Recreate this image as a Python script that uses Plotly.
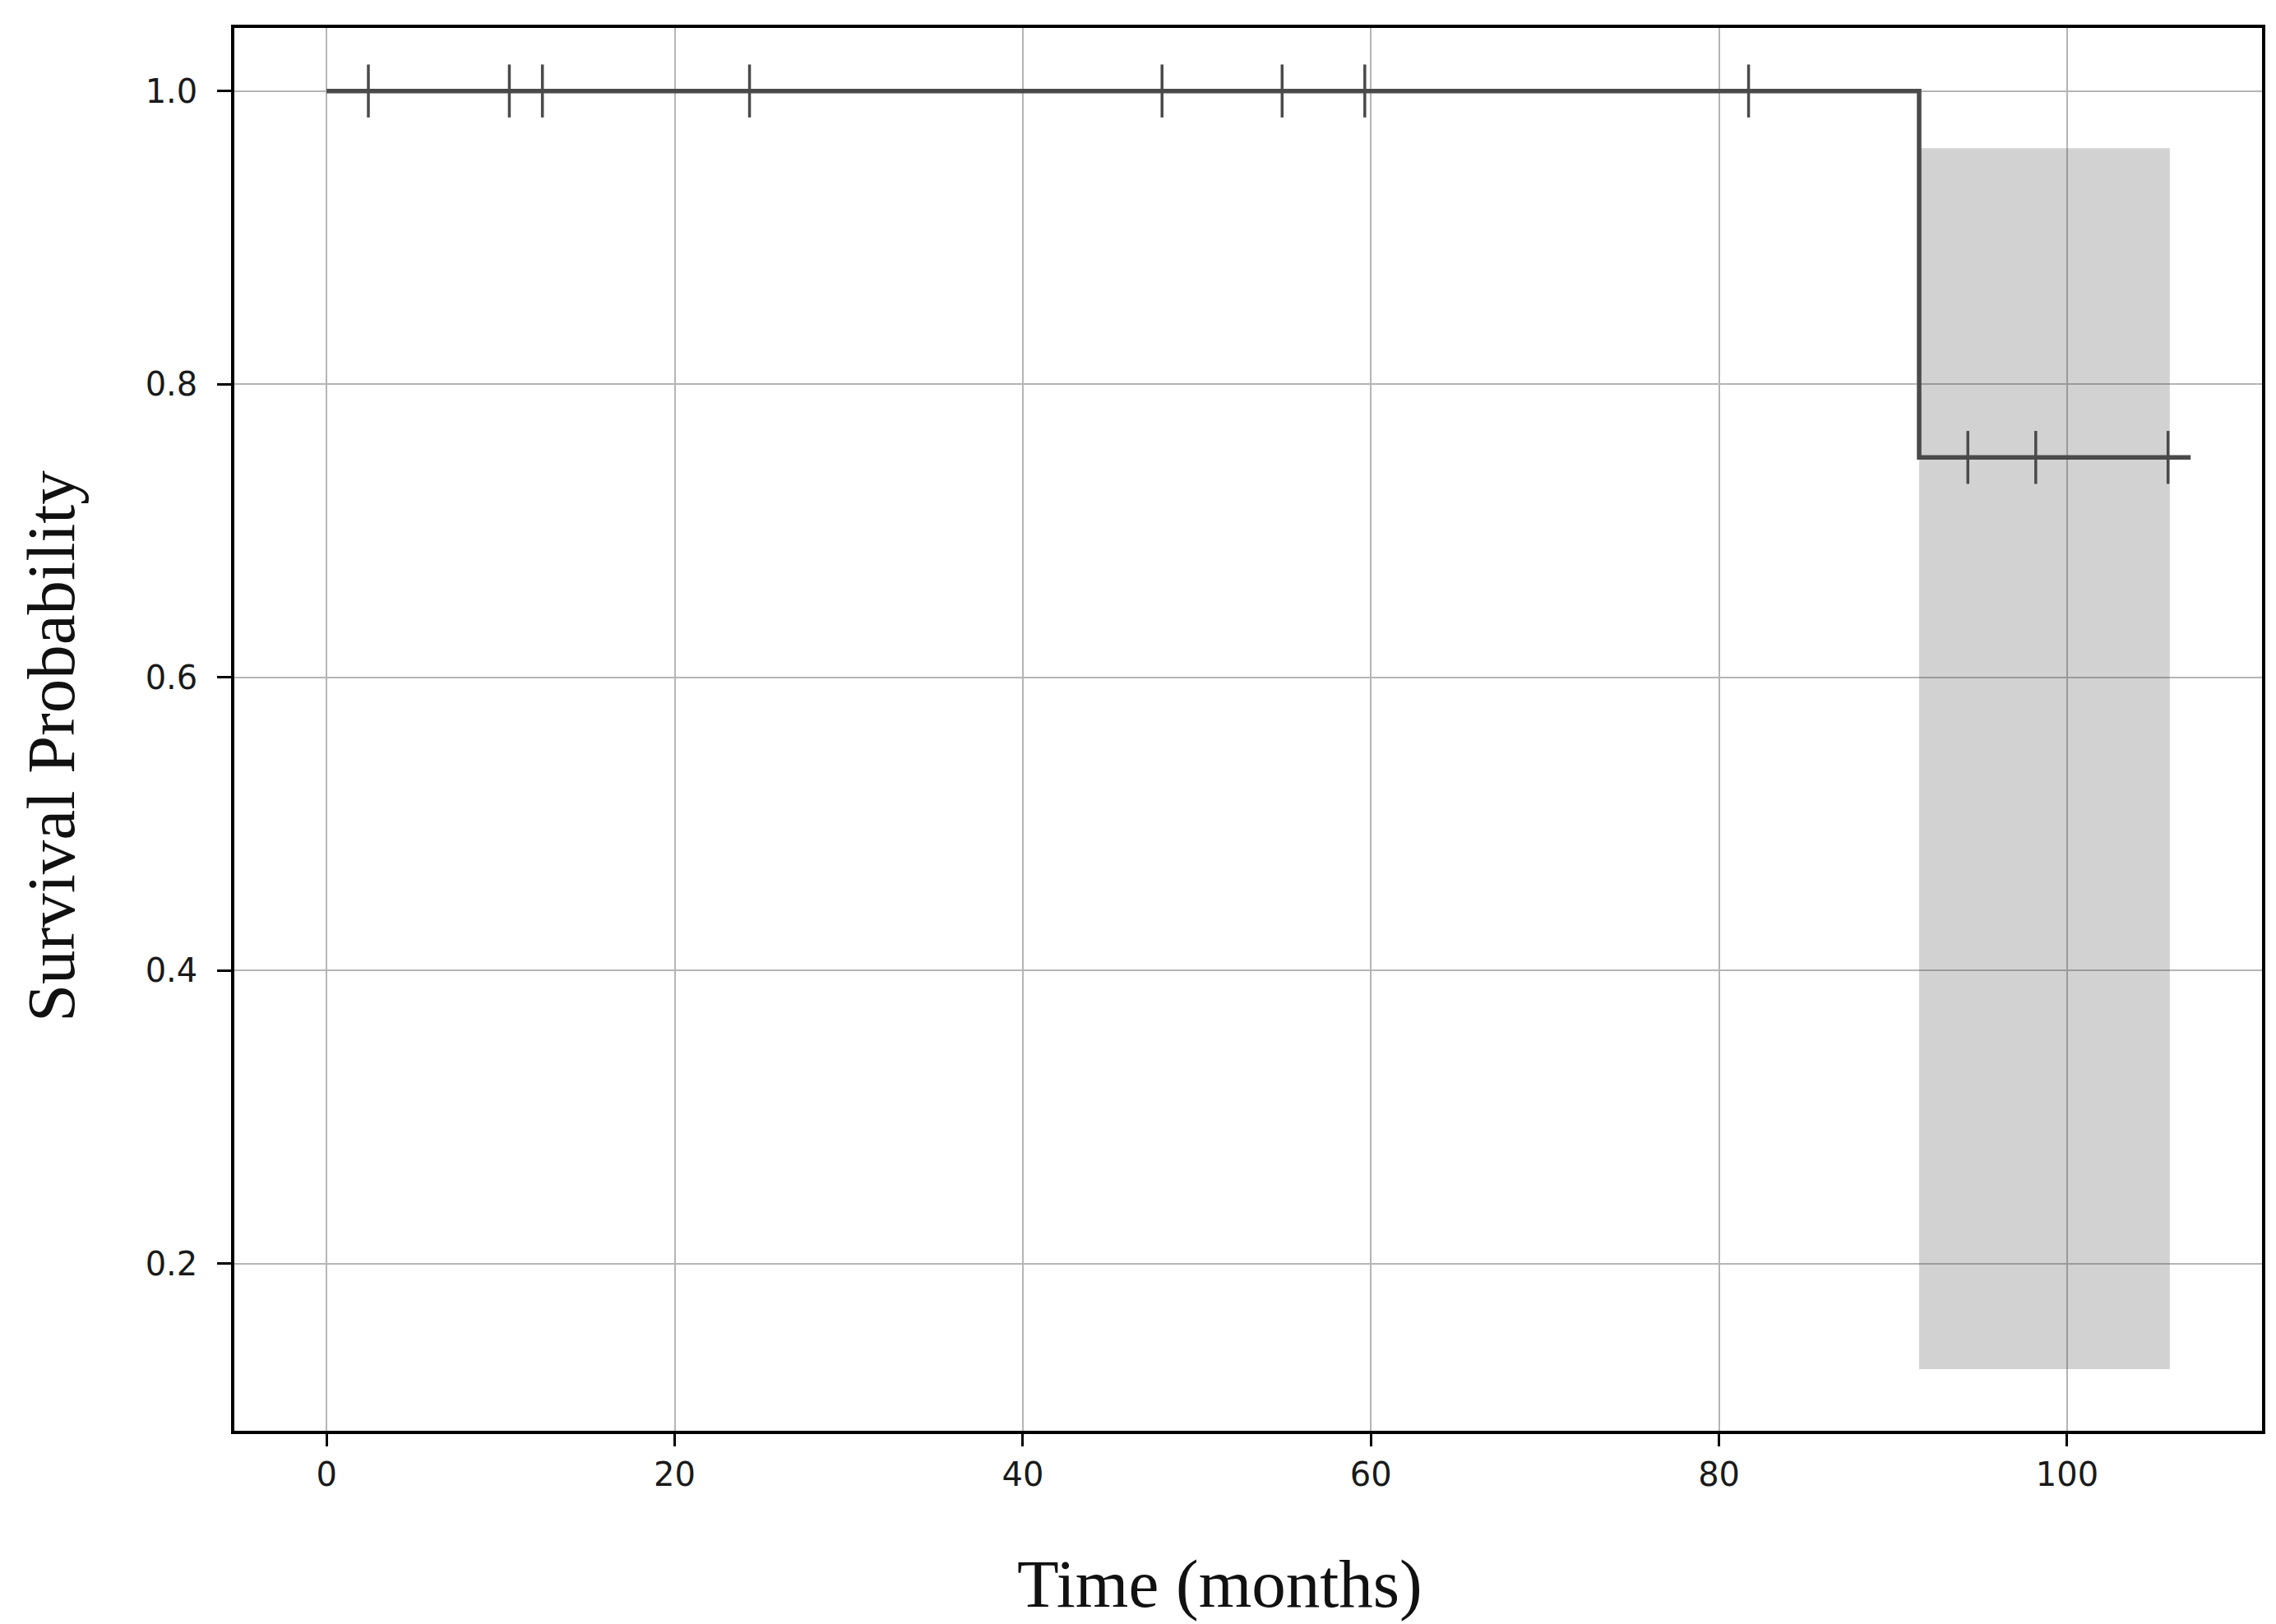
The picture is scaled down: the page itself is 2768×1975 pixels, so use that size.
import plotly.graph_objects as go

# Kaplan-Meier estimate
km_time = [0, 91.5, 107.1]
km_surv = [1.0, 0.75, 0.75]

# censored observations
cens_time = [2.4, 10.5, 12.4, 24.3, 48.0, 54.9, 59.65, 81.7, 94.3, 98.2, 105.8]
cens_surv = [1.0, 1.0, 1.0, 1.0, 1.0, 1.0, 1.0, 1.0, 0.75, 0.75, 0.75]

# confidence band
ci_time = [0, 91.5, 105.9]
ci_lower = [1.0, 0.128, 0.128]
ci_upper = [1.0, 0.961, 0.961]

x_ticks = [0, 20, 40, 60, 80, 100]
y_ticks = [0.2, 0.4, 0.6, 0.8, 1.0]

line_col = '#4a4a4a'

fig = go.Figure()

fig.add_trace(go.Scatter(
    x=ci_time, y=ci_lower, mode='lines', line=dict(width=0, shape='hv'),
    hoverinfo='skip', showlegend=False,
))
fig.add_trace(go.Scatter(
    x=ci_time, y=ci_upper, mode='lines', line=dict(width=0, shape='hv'),
    fill='tonexty', fillcolor='rgba(77,77,77,0.25)',
    hoverinfo='skip', showlegend=False,
))
fig.add_trace(go.Scatter(
    x=km_time, y=km_surv, mode='lines',
    line=dict(color=line_col, width=5.5, shape='hv'),
    showlegend=False,
))
fig.add_trace(go.Scatter(
    x=cens_time, y=cens_surv, mode='markers',
    marker=dict(symbol='line-ns', size=46, line=dict(color=line_col, width=3.5)),
    showlegend=False,
))

tick_font = dict(family='DejaVu Sans', size=40, color='#1a1a1a')
title_font = dict(family='Liberation Serif', size=83, color='#111111')

fig.update_layout(
    width=2768, height=1975,
    margin=dict(l=277, r=25, t=26, b=243),
    paper_bgcolor='white', plot_bgcolor='white',
    xaxis=dict(
        range=[-5.3, 111.2], tickvals=x_ticks, ticks='outside', ticklen=15,
        tickwidth=3, tickcolor='black', tickfont=tick_font,
        showgrid=True, gridcolor='#b5b5b5', gridwidth=2,
        showline=True, linecolor='black', linewidth=3.5, mirror=True,
        zeroline=False,
    ),
    yaxis=dict(
        range=[0.0859, 1.043], tickvals=y_ticks, tickformat='.1f',
        ticks='outside', ticklen=17, tickwidth=3, tickcolor='black',
        tickfont=tick_font, ticklabelstandoff=16,
        showgrid=True, gridcolor='#b5b5b5', gridwidth=2,
        showline=True, linecolor='black', linewidth=3.5, mirror=True,
        zeroline=False,
    ),
    annotations=[
        dict(text='Survival Probability', xref='paper', yref='paper',
             x=-0.0904, y=0.4877, xanchor='center', yanchor='middle',
             textangle=-90, showarrow=False, font=title_font),
        dict(text='Time (months)', xref='paper', yref='paper',
             x=0.486, y=-0.109, xanchor='center', yanchor='middle',
             showarrow=False, font=title_font),
    ],
)

fig.write_html('out.html')
